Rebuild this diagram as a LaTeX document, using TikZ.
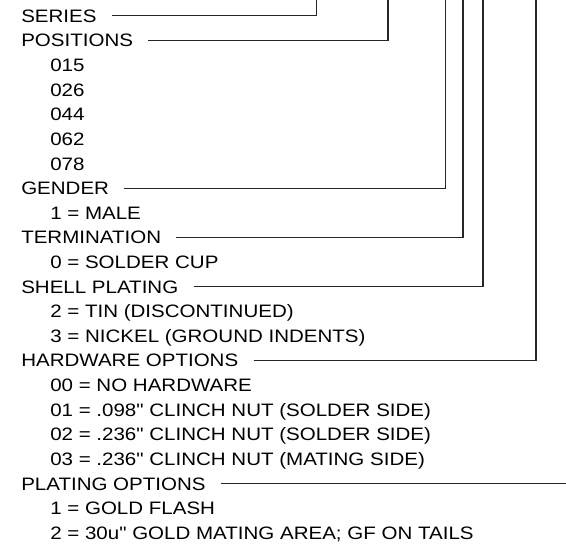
\documentclass[tikz,border=0pt]{standalone}
\usepackage{fontspec}
\setmainfont{Liberation Sans}[FakeStretch=1.14, Ligatures=TeXOff]
\begin{document}
\begin{tikzpicture}[x=0.75pt,y=-0.75pt,
    head/.style={anchor=base west, inner sep=0pt, text height=9.6pt, text depth=0pt,
                 font=\fontsize{13.5}{16}\selectfont},
    lead/.style={line width=0.8pt, black!85}]
\useasboundingbox (0,0) rectangle (566,544);
% Pas entre deux lignes (px)
\def\dy{24.62}
\def\hx{21}  % titres
\def\ix{50}  % choix

% Titres
\node[head] (ser) at (\hx,22.3+0*\dy)  {SERIES};
\node[head] (pos) at (\hx,22.3+1*\dy)  {POSITIONS};
\node[head] (gen) at (\hx,22.3+7*\dy)  {GENDER};
\node[head] (ter) at (\hx,22.3+9*\dy)  {TERMINATION};
\node[head] (she) at (\hx,22.3+11*\dy) {SHELL PLATING};
\node[head] (har) at (\hx,22.3+14*\dy) {HARDWARE OPTIONS};
\node[head] (plt) at (\hx,22.3+19*\dy) {PLATING OPTIONS};

% Choix
\foreach \row/\txt in {2/015, 3/026, 4/044, 5/062, 6/078,
    8/1 = MALE, 10/0 = SOLDER CUP,
    12/2 = TIN (DISCONTINUED), 13/3 = NICKEL (GROUND INDENTS),
    15/00 = NO HARDWARE, 16/01 = .098" CLINCH NUT (SOLDER SIDE),
    17/02 = .236" CLINCH NUT (SOLDER SIDE), 18/03 = .236" CLINCH NUT (MATING SIDE),
    20/1 = GOLD FLASH, 21/2 = 30u" GOLD MATING AREA; GF ON TAILS}
  \node[head] (opt\row) at (\ix,22.3+\row*\dy) {\txt};

% Bouts des traits en haut
\coordinate (tser) at (316.7,0);
\coordinate (tpos) at (388,0);
\coordinate (tgen) at (445.7,0);
\coordinate (tter) at (463,0);
\coordinate (tshe) at (483,0);
\coordinate (thar) at (536,0);
\coordinate (rend) at (566,0);

% Traits de renvoi
\draw[lead] (ser.east) ++(15,0) -| (tser);
\draw[lead] (pos.east) ++(15,0) -| (tpos);
\draw[lead] (gen.east) ++(15,0) -| (tgen);
\draw[lead] (ter.east) ++(15,0) -| (tter);
\draw[lead] (she.east) ++(15,0) -| (tshe);
\draw[lead] (har.east) ++(15,0) -| (thar);
\draw[lead] (plt.east) ++(15,0) -- (plt.east -| rend);

\end{tikzpicture}
\end{document}
